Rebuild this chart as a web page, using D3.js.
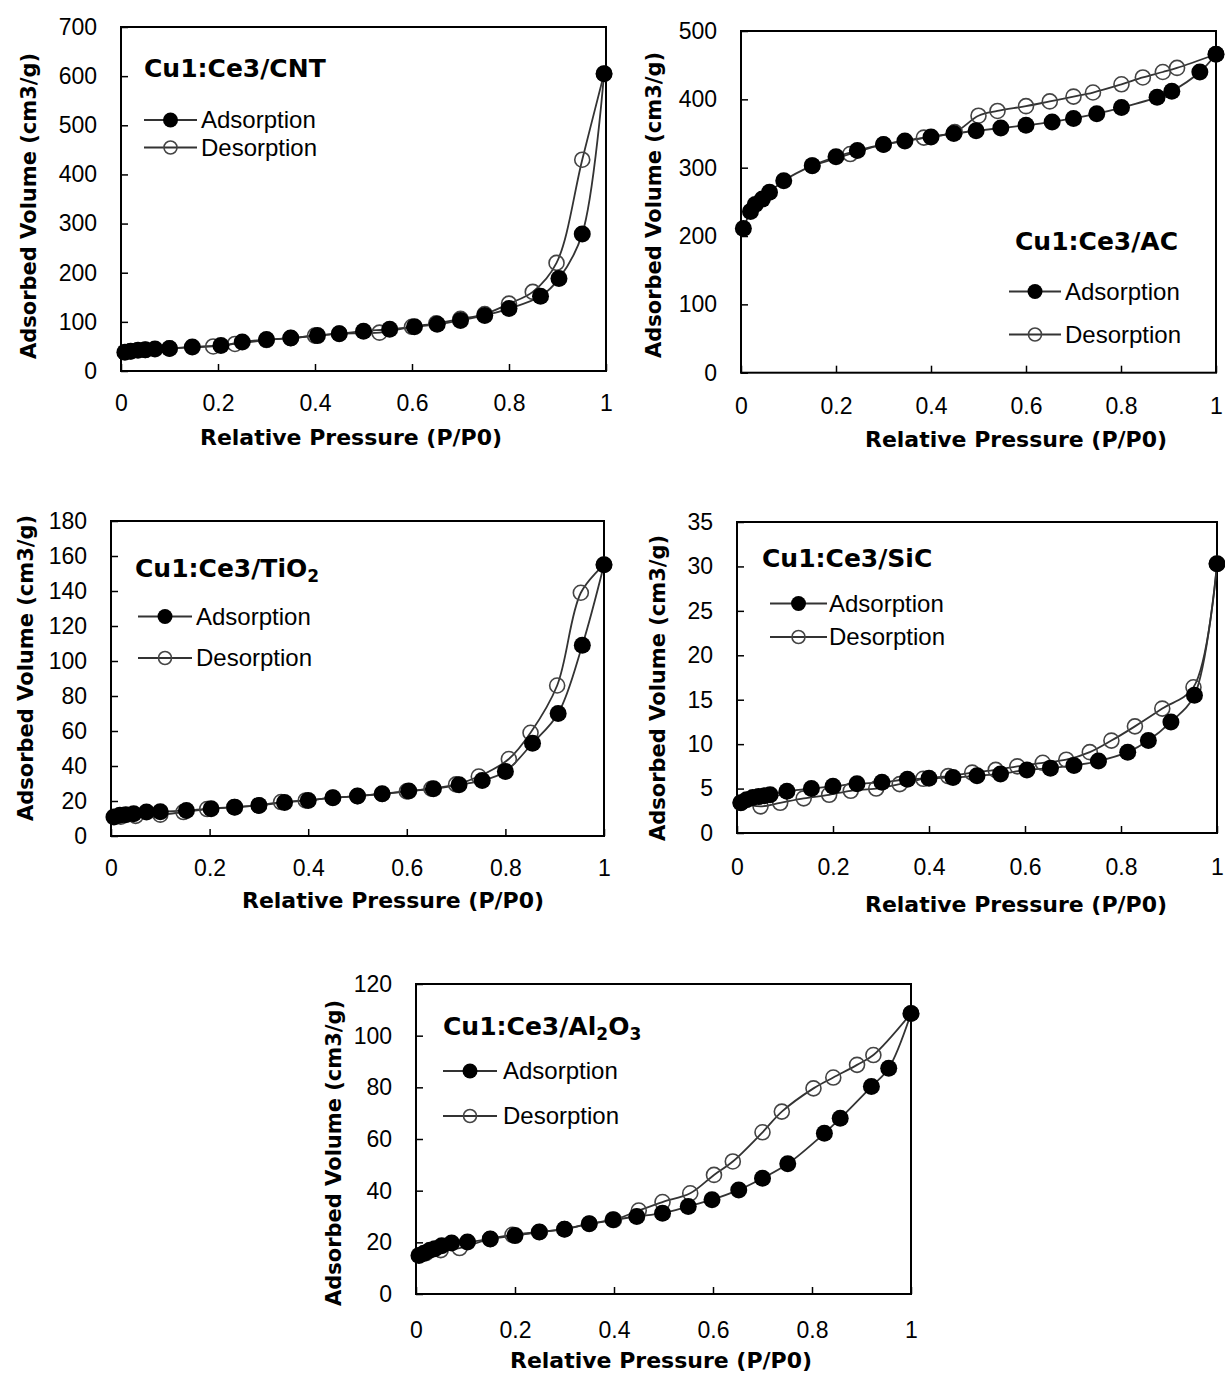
<!DOCTYPE html>
<html>
<head>
<meta charset="utf-8">
<script src="https://cdn.jsdelivr.net/npm/d3@7"></script>
<style>
  body { margin: 0; background: #fff; }
  svg { display: block; }
</style>
</head>
<body>
<div id="chart"></div>
<script>
// ---- data ----
const xTicks = [0, 0.2, 0.4, 0.6, 0.8, 1];

const cntAdsX = [0.008, 0.02, 0.035, 0.05, 0.07, 0.1, 0.147, 0.206, 0.25, 0.30, 0.35, 0.405, 0.45, 0.50, 0.554, 0.605, 0.652, 0.70, 0.75, 0.80, 0.865, 0.903, 0.951, 0.996];
const cntAdsY = [38, 40, 42, 43, 45, 46, 49, 52, 59, 64, 67, 72, 76, 81, 85, 90, 95, 103, 113, 127, 152, 188, 279, 605];
const cntDesX = [0.996, 0.951, 0.898, 0.849, 0.80, 0.75, 0.70, 0.65, 0.60, 0.533, 0.45, 0.40, 0.35, 0.30, 0.235, 0.19, 0.1, 0.05, 0.02];
const cntDesY = [605, 430, 220, 161, 137, 116, 106, 97, 90, 78, 76, 72, 67, 63, 55, 50, 46, 43, 40];

const acAdsX = [0.005, 0.02, 0.03, 0.045, 0.06, 0.09, 0.15, 0.2, 0.245, 0.3, 0.345, 0.4, 0.448, 0.495, 0.547, 0.6, 0.655, 0.7, 0.749, 0.801, 0.876, 0.907, 0.966, 1.0];
const acAdsY = [211, 236, 246, 254, 264, 281, 303, 316, 325, 334, 339, 345, 350, 354, 358, 362, 367, 372, 379, 388, 403, 412, 440, 466];
const acDesX = [1.0, 0.918, 0.888, 0.846, 0.801, 0.741, 0.70, 0.65, 0.60, 0.54, 0.50, 0.45, 0.385, 0.3, 0.23, 0.15];
const acDesY = [466, 446, 440, 432, 422, 410, 404, 397, 390, 383, 376, 352, 344, 334, 320, 303];

const tiAdsX = [0.006, 0.018, 0.03, 0.046, 0.072, 0.10, 0.153, 0.203, 0.251, 0.30, 0.352, 0.40, 0.45, 0.50, 0.55, 0.604, 0.654, 0.706, 0.753, 0.80, 0.855, 0.907, 0.956, 1.0];
const tiAdsY = [10.8, 11.8, 12.2, 12.7, 13.7, 13.9, 14.6, 15.6, 16.5, 17.5, 19.2, 20.3, 21.9, 22.8, 24.1, 25.7, 27, 29.3, 31.7, 36.9, 53, 70, 109, 155];
const tiDesX = [1.0, 0.953, 0.905, 0.851, 0.807, 0.746, 0.70, 0.65, 0.60, 0.55, 0.50, 0.45, 0.395, 0.345, 0.30, 0.25, 0.195, 0.147, 0.10, 0.05, 0.02];
const tiDesY = [155, 139, 86, 59, 44, 34, 29.5, 27, 25.5, 24, 22.8, 21.9, 20.3, 19.4, 17.5, 16.5, 15.4, 13.7, 12.2, 11.5, 11];

const sicAdsX = [0.008, 0.02, 0.033, 0.045, 0.057, 0.069, 0.104, 0.155, 0.20, 0.25, 0.302, 0.355, 0.40, 0.45, 0.50, 0.549, 0.604, 0.653, 0.702, 0.753, 0.814, 0.857, 0.904, 0.953, 1.0];
const sicAdsY = [3.4, 3.75, 4.0, 4.1, 4.2, 4.3, 4.7, 5.0, 5.25, 5.55, 5.7, 6.05, 6.15, 6.25, 6.45, 6.65, 7.1, 7.3, 7.6, 8.1, 9.1, 10.4, 12.5, 15.5, 30.3];
const sicDesX = [1.0, 0.951, 0.886, 0.829, 0.780, 0.735, 0.686, 0.637, 0.584, 0.539, 0.49, 0.44, 0.388, 0.339, 0.29, 0.237, 0.192, 0.139, 0.09, 0.049, 0.008];
const sicDesY = [30.3, 16.4, 14.0, 12.0, 10.4, 9.1, 8.25, 7.9, 7.5, 7.1, 6.8, 6.4, 6.1, 5.5, 5.0, 4.75, 4.3, 3.9, 3.4, 3.0, 3.4];

const alAdsX = [0.006, 0.016, 0.028, 0.038, 0.052, 0.072, 0.104, 0.15, 0.20, 0.249, 0.30, 0.35, 0.398, 0.446, 0.498, 0.55, 0.598, 0.652, 0.70, 0.751, 0.825, 0.857, 0.92, 0.955, 1.0];
const alAdsY = [14.9, 15.8, 16.9, 17.5, 18.7, 19.7, 20.1, 21.3, 22.6, 24, 25.1, 27.2, 28.7, 30, 31.3, 33.9, 36.5, 40.3, 44.8, 50.4, 62.2, 68, 80.3, 87.4, 108.6];
const alDesX = [1.0, 0.924, 0.891, 0.843, 0.803, 0.739, 0.70, 0.64, 0.602, 0.554, 0.498, 0.45, 0.40, 0.35, 0.30, 0.25, 0.195, 0.15, 0.088, 0.05, 0.02];
const alDesY = [108.6, 92.5, 88.7, 83.8, 79.6, 70.6, 62.6, 51.3, 46.1, 39, 35.6, 32.3, 28.7, 27.2, 25.1, 24, 22.9, 21.3, 17.8, 17, 15.8];

const cntYTicks = [0, 100, 200, 300, 400, 500, 600, 700];
const acYTicks = [0, 100, 200, 300, 400, 500];
const tiYTicks = [0, 20, 40, 60, 80, 100, 120, 140, 160, 180];
const sicYTicks = [0, 5, 10, 15, 20, 25, 30, 35];
const alYTicks = [0, 20, 40, 60, 80, 100, 120];

// ---- panel layout ----
// box = [left, right, top, bottom]
const panels = [
  { title: ['Cu1:Ce3/CNT'], ads: [cntAdsX, cntAdsY], des: [cntDesX, cntDesY], yTicks: cntYTicks,
    box: [121, 606, 27, 371], titlePos: [144, 77], leg: [144, 197, 120, 147.5, 201],
    xTitle: [351, 445], yTitle: [36, 206], xPad: 24 },
  { title: ['Cu1:Ce3/AC'], ads: [acAdsX, acAdsY], des: [acDesX, acDesY], yTicks: acYTicks,
    box: [741, 1216, 31, 372.7], titlePos: [1015, 250], leg: [1009, 1061, 291.5, 334.5, 1065],
    xTitle: [1016, 447], yTitle: [661, 205], xPad: 25 },
  { title: ['Cu1:Ce3/TiO', '2'], ads: [tiAdsX, tiAdsY], des: [tiDesX, tiDesY], yTicks: tiYTicks,
    box: [111, 604, 521, 836], titlePos: [135, 577], leg: [138, 192, 616.5, 658, 196],
    xTitle: [393, 908], yTitle: [33, 668], xPad: 24 },
  { title: ['Cu1:Ce3/SiC'], ads: [sicAdsX, sicAdsY], des: [sicDesX, sicDesY], yTicks: sicYTicks,
    box: [737, 1217, 522, 833], titlePos: [762, 567], leg: [770, 827, 603.5, 637, 829],
    xTitle: [1016, 912], yTitle: [665, 688], xPad: 26 },
  { title: ['Cu1:Ce3/Al', '2', 'O', '3'], ads: [alAdsX, alAdsY], des: [alDesX, alDesY], yTicks: alYTicks,
    box: [416, 911, 984, 1294], titlePos: [443, 1035], leg: [443, 497, 1071, 1116, 503],
    xTitle: [661, 1368], yTitle: [341, 1153], xPad: 28 }
];

const W = 1225, H = 1376;
const tickFont = "'Liberation Sans', Arial, sans-serif";
const boldFont = "'DejaVu Sans', Verdana, sans-serif";
const lineColor = '#333';

const svg = d3.select('#chart').append('svg').attr('width', W).attr('height', H);

panels.forEach(p => {
  const [l, r, t, b] = p.box;
  const x = d3.scaleLinear().domain([0, 1]).range([l, r]);
  const y = d3.scaleLinear().domain([0, d3.max(p.yTicks)]).range([b, t]);
  const g = svg.append('g');

  // frame
  g.append('rect').attr('x', l).attr('y', t).attr('width', r - l).attr('height', b - t)
    .attr('fill', 'none').attr('stroke', '#000').attr('stroke-width', 2);

  // axes (ticks pointing inwards)
  const xa = g.append('g').attr('transform', `translate(0,${b})`)
    .call(d3.axisBottom(x).tickValues(xTicks).tickSize(-7).tickPadding(p.xPad).tickFormat(d3.format('~g')));
  const ya = g.append('g').attr('transform', `translate(${l},0)`)
    .call(d3.axisLeft(y).tickValues(p.yTicks).tickSize(-7).tickPadding(24).tickFormat(d3.format('~g')));
  [xa, ya].forEach(a => {
    a.select('.domain').remove();
    a.attr('font-family', tickFont).attr('font-size', 23);
    a.selectAll('.tick line').attr('stroke', '#000').attr('stroke-width', 1.5);
    a.selectAll('.tick text').attr('fill', '#000');
  });

  // curves
  const line = d3.line().x(d => x(d[0])).y(d => y(d[1])).curve(d3.curveCatmullRom.alpha(0.5));
  const ads = d3.zip(p.ads[0], p.ads[1]);
  const des = d3.zip(p.des[0], p.des[1]);

  g.append('path').datum(des).attr('d', line).attr('fill', 'none').attr('stroke', lineColor).attr('stroke-width', 1.8);
  g.append('path').datum(ads).attr('d', line).attr('fill', 'none').attr('stroke', lineColor).attr('stroke-width', 1.8);

  g.append('g').selectAll('circle').data(des).join('circle')
    .attr('cx', d => x(d[0])).attr('cy', d => y(d[1])).attr('r', 7.5)
    .attr('fill', 'none').attr('stroke', '#444').attr('stroke-width', 1.6);
  g.append('g').selectAll('circle').data(ads).join('circle')
    .attr('cx', d => x(d[0])).attr('cy', d => y(d[1])).attr('r', 8.5)
    .attr('fill', '#000');

  // sample title with subscripts
  const tt = g.append('text').attr('x', p.titlePos[0]).attr('y', p.titlePos[1])
    .attr('font-family', boldFont).attr('font-weight', 'bold').attr('font-size', 25).attr('fill', '#000');
  p.title.forEach((s, i) => {
    const sub = i % 2 === 1;
    tt.append('tspan').text(s)
      .attr('font-size', sub ? 17 : null)
      .attr('dy', i === 0 ? 0 : (sub ? 5 : -5));
  });

  // legend
  const [lx1, lx2, ly1, ly2, ltx] = p.leg;
  const cx = (lx1 + lx2) / 2;
  [[ly1, 'Adsorption', true], [ly2, 'Desorption', false]].forEach(([ly, label, filled]) => {
    g.append('line').attr('x1', lx1).attr('x2', lx2).attr('y1', ly).attr('y2', ly)
      .attr('stroke', lineColor).attr('stroke-width', 1.8);
    g.append('circle').attr('cx', cx).attr('cy', ly).attr('r', filled ? 7.5 : 6.5)
      .attr('fill', filled ? '#000' : 'none').attr('stroke', filled ? 'none' : '#444').attr('stroke-width', 1.6);
    g.append('text').attr('x', ltx).attr('y', ly).attr('dy', '0.35em')
      .attr('font-family', tickFont).attr('font-size', 24).attr('fill', '#000').text(label);
  });

  // axis titles
  g.append('text').attr('x', p.xTitle[0]).attr('y', p.xTitle[1]).attr('text-anchor', 'middle')
    .attr('font-family', boldFont).attr('font-weight', 'bold').attr('font-size', 22).attr('fill', '#000')
    .text('Relative Pressure (P/P0)');
  g.append('text').attr('transform', `translate(${p.yTitle[0]},${p.yTitle[1]}) rotate(-90)`)
    .attr('text-anchor', 'middle')
    .attr('font-family', boldFont).attr('font-weight', 'bold').attr('font-size', 21).attr('fill', '#000')
    .text('Adsorbed Volume (cm3/g)');
});
</script>
</body>
</html>
